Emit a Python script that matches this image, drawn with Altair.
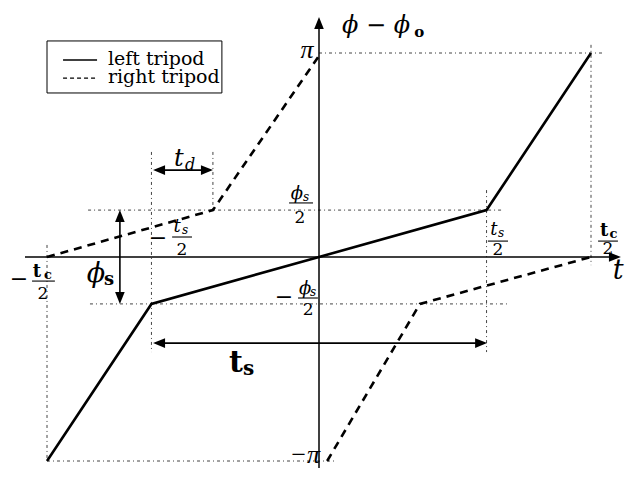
import altair as alt
import pandas as pd

FONT = "DejaVu Serif"
FONT_PI = "Liberation Serif"

# ---------------- values (x in units of t_c/2, y in units of pi) ----------------
# left tripod (solid)
left_t = [-1.0, -0.616, 0.0, 0.616, 1.0]
left_phi = [-1.0, -0.23, 0.0, 0.23, 1.0]
# right tripod (dashed), two branches
right_a_t = [-1.0, -0.390, 0.007]
right_a_phi = [0.0, 0.23, 1.0]
right_b_t = [0.03, 0.371, 1.0]
right_b_phi = [-1.0, -0.23, 0.0]

# dotted guide lines: x, y, x2, y2
guide_x = [0.0, 1.0, -0.849, -0.842, -0.616, -0.390, 0.616, -1.0, -1.0]
guide_y = [1.0, 1.04, 0.23, -0.23, 0.515, 0.515, 0.328, 0.059, -1.0]
guide_x2 = [1.051, 1.0, 0.676, 0.691, -0.616, -0.390, 0.616, -1.0, 0.066]
guide_y2 = [1.0, -0.04, 0.23, -0.23, -0.466, 0.23, -0.466, -1.0, -1.0]

# solid strokes: axes, dimension arrows, fraction bars, legend sample
seg_x = [-1.081, 0.0, -0.732, -0.600, -0.600, -0.540, -1.055, -0.110, -0.077, 0.621, 1.026, -0.941]
seg_y = [0.0, -1.20, -0.215, 0.426, -0.422, 0.098, -0.118, 0.265, -0.201, 0.078, 0.078, 0.966]
seg_x2 = [1.085, 0.0, -0.732, -0.400, 0.608, -0.467, -0.971, -0.022, -0.004, 0.695, 1.099, -0.816]
seg_y2 = [0.0, 1.15, 0.215, 0.426, -0.422, 0.098, -0.118, 0.265, -0.201, 0.078, 0.078, 0.966]
seg_w = [1.5, 1.5, 1.6, 1.6, 1.6, 1.1, 1.1, 1.1, 1.1, 1.1, 1.1, 1.4]

# arrow heads: tip x, tip y, direction (deg)
head_x = [1.110, 0.0, -0.732, -0.732, -0.610, -0.390, -0.610, 0.618]
head_y = [0.0, 1.176, 0.23, -0.23, 0.426, 0.426, -0.422, -0.422]
head_angle = [0, 270, 270, 90, 180, 0, 180, 0]

# legend
legend_box = {"x": [-1.0], "y": [1.059], "x2": [-0.357], "y2": [0.804]}
legend_dash_t = [-0.941, -0.816]
legend_dash_phi = [0.877, 0.877]
legend_labels = ["left tripod", "right tripod"]
legend_label_y = [0.941, 0.853]
legend_label_x = -0.776

# text labels: x, y (baseline), label, size, style, weight, align, font
labels = [
    (0.085, 1.098, "ϕ − ϕ", 24, "italic", "normal", "left", FONT),
    (0.350, 1.080, "o", 15, "normal", "bold", "left", FONT),
    (-0.044, 0.975, "π", 26, "italic", "normal", "center", FONT_PI),
    (0.004, -1.012, "−π", 26, "italic", "normal", "right", FONT_PI),
    (1.080, -0.108, "t", 27, "italic", "normal", "left", FONT),
    # t_c / 2 (right)
    (1.048, 0.103, "t", 18, "normal", "bold", "center", FONT),
    (1.068, 0.093, "c", 13, "normal", "bold", "left", FONT),
    (1.062, 0.015, "2", 17, "normal", "normal", "center", FONT),
    # t_s / 2
    (0.643, 0.108, "t", 18, "italic", "normal", "center", FONT),
    (0.658, 0.098, "s", 12, "italic", "normal", "left", FONT),
    (0.658, 0.010, "2", 17, "normal", "normal", "center", FONT),
    # - t_s / 2
    (-0.592, 0.059, "−", 22, "normal", "normal", "center", FONT),
    (-0.522, 0.123, "t", 18, "italic", "normal", "center", FONT),
    (-0.504, 0.113, "s", 12, "italic", "normal", "left", FONT),
    (-0.504, 0.010, "2", 17, "normal", "normal", "center", FONT),
    # - t_c / 2
    (-1.103, -0.142, "−", 22, "normal", "normal", "center", FONT),
    (-1.037, -0.098, "t", 18, "normal", "bold", "center", FONT),
    (-1.011, -0.108, "c", 13, "normal", "bold", "left", FONT),
    (-1.015, -0.206, "2", 17, "normal", "normal", "center", FONT),
    # phi_s / 2
    (-0.081, 0.284, "ϕ", 18, "italic", "normal", "center", FONT),
    (-0.059, 0.275, "s", 12, "italic", "normal", "left", FONT),
    (-0.070, 0.167, "2", 17, "normal", "normal", "center", FONT),
    # - phi_s / 2
    (-0.129, -0.230, "−", 22, "normal", "normal", "center", FONT),
    (-0.051, -0.181, "ϕ", 18, "italic", "normal", "center", FONT),
    (-0.033, -0.191, "s", 12, "italic", "normal", "left", FONT),
    (-0.040, -0.284, "2", 17, "normal", "normal", "center", FONT),
    # phi_s
    (-0.820, -0.123, "ϕ", 27, "italic", "normal", "center", FONT),
    (-0.790, -0.137, "s", 18, "normal", "bold", "left", FONT),
    # t_d
    (-0.515, 0.446, "t", 24, "italic", "normal", "center", FONT),
    (-0.493, 0.426, "d", 16, "italic", "normal", "left", FONT),
    # t_s
    (-0.305, -0.564, "t", 30, "normal", "bold", "center", FONT),
    (-0.279, -0.578, "s", 20, "normal", "bold", "left", FONT),
]

# ---------------- scales ----------------
W, H = 619, 460
PX_X, PX_Y = 272.0, 204.0
XMIN = -311 / PX_X
XMAX = XMIN + W / PX_X
YMAX = 249 / PX_Y
YMIN = YMAX - H / PX_Y
xs = alt.Scale(domain=[XMIN, XMAX], nice=False, zero=False)
ys = alt.Scale(domain=[YMIN, YMAX], nice=False, zero=False)


def X(f):
    return alt.X(f, type="quantitative", scale=xs, axis=None)


def Y(f):
    return alt.Y(f, type="quantitative", scale=ys, axis=None)


# ---------------- data frames ----------------
curve_rows = []
for name, ts, ps in [("left", left_t, left_phi), ("ra", right_a_t, right_a_phi), ("rb", right_b_t, right_b_phi)]:
    for i, (t, p) in enumerate(zip(ts, ps)):
        curve_rows.append({"series": name, "i": i, "t": t, "phi": p})
curves = pd.DataFrame(curve_rows)

guides = pd.DataFrame({"x": guide_x, "y": guide_y, "x2": guide_x2, "y2": guide_y2})
segs = pd.DataFrame({"x": seg_x, "y": seg_y, "x2": seg_x2, "y2": seg_y2, "w": seg_w})
heads = pd.DataFrame({"x": head_x, "y": head_y, "angle": head_angle})
lbox = pd.DataFrame(legend_box)
ldash = pd.DataFrame({"x": [legend_dash_t[0]], "y": [legend_dash_phi[0]], "x2": [legend_dash_t[1]], "y2": [legend_dash_phi[1]]})
ltext = pd.DataFrame({"x": [legend_label_x] * 2, "y": legend_label_y, "label": legend_labels})
lab = pd.DataFrame(labels, columns=["x", "y", "label", "size", "style", "weight", "align", "font"])

# ---------------- layers ----------------
solid = alt.Chart(curves[curves.series == "left"]).mark_line(color="black", strokeWidth=2.6).encode(
    x=X("t"), y=Y("phi"), order="i:Q")
dashed = alt.Chart(curves[curves.series != "left"]).mark_line(
    color="black", strokeWidth=2.6, strokeDash=[8, 6]).encode(
    x=X("t"), y=Y("phi"), detail="series:N", order="i:Q")

guide_layer = alt.Chart(guides).mark_rule(color="#444444", strokeWidth=1, strokeDash=[3, 3, 1, 3]).encode(
    x=X("x"), y=Y("y"), x2="x2", y2="y2")

seg_layer = alt.Chart(segs).mark_rule(color="black").encode(
    x=X("x"), y=Y("y"), x2="x2", y2="y2", strokeWidth=alt.StrokeWidth("w:Q", scale=None))

head_layer = alt.Chart(heads).mark_point(
    shape="M0,0L-2,-0.8L-2,0.8Z", filled=True, color="black", opacity=1, size=144).encode(
    x=X("x"), y=Y("y"), angle=alt.Angle("angle:Q", scale=None))

box_layer = alt.Chart(lbox).mark_rect(fillOpacity=0, stroke="black", strokeWidth=1).encode(
    x=X("x"), y=Y("y"), x2="x2", y2="y2")
ldash_layer = alt.Chart(ldash).mark_rule(color="black", strokeWidth=1.3, strokeDash=[4, 3]).encode(
    x=X("x"), y=Y("y"), x2="x2", y2="y2")
ltext_layer = alt.Chart(ltext).mark_text(
    font=FONT, fontSize=19, align="left", baseline="alphabetic", color="black").encode(
    x=X("x"), y=Y("y"), text="label:N")

text_layers = []
for (style, weight, align, font), sub in lab.groupby(["style", "weight", "align", "font"]):
    text_layers.append(
        alt.Chart(sub.reset_index(drop=True)).mark_text(
            font=font, fontStyle=style, fontWeight=weight, align=align,
            baseline="alphabetic", color="black").encode(
            x=X("x"), y=Y("y"), text="label:N", size=alt.Size("size:Q", scale=None))
    )

chart = alt.layer(
    guide_layer, seg_layer, head_layer, solid, dashed,
    box_layer, ldash_layer, ltext_layer, *text_layers
).properties(
    width=W, height=H, padding=0, autosize=alt.AutoSizeParams(type="none"), background="white"
).configure_view(stroke=None)

chart.save("out.html", embed_options={"renderer": "svg", "actions": False})
